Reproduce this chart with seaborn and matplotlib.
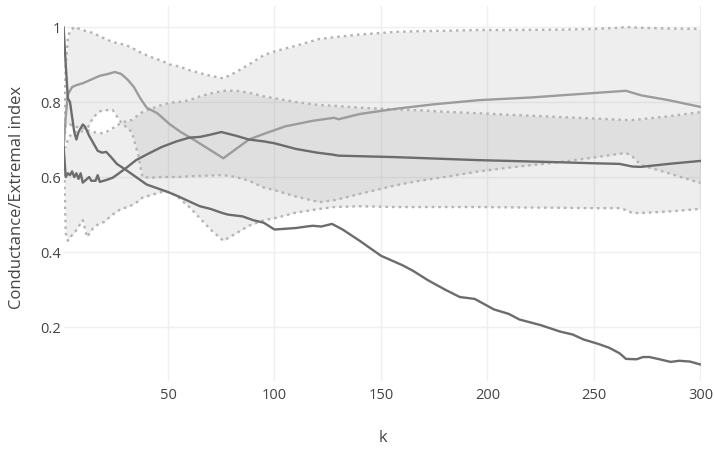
import matplotlib
matplotlib.use("Agg")
import matplotlib.pyplot as plt
import seaborn as sns
import pandas as pd

# ---------------- data ----------------
# line A (dark, decreasing)
k_a = [1, 2, 3, 4, 5, 6, 7, 8, 10, 11, 13, 15, 17, 19, 21, 23, 26, 30, 35, 40, 45, 50, 55, 60, 65,
       70, 75, 78, 85, 90, 95, 100, 105, 110, 115, 118, 122, 127, 132, 140, 150, 160, 165, 172, 180,
       187, 194, 203, 210, 215, 225, 234, 240, 245, 252, 257, 262, 265, 270, 273, 276, 280, 286, 290,
       295, 300]
val_a = [1.0, 0.90, 0.81, 0.80, 0.76, 0.72, 0.70, 0.72, 0.74, 0.735, 0.71, 0.69, 0.67, 0.665, 0.667,
         0.655, 0.635, 0.62, 0.60, 0.58, 0.57, 0.56, 0.548, 0.535, 0.522, 0.515, 0.505, 0.50, 0.495,
         0.485, 0.478, 0.46, 0.462, 0.464, 0.468, 0.47, 0.468, 0.475, 0.46, 0.43, 0.39, 0.365, 0.35,
         0.325, 0.30, 0.28, 0.275, 0.247, 0.235, 0.22, 0.205, 0.188, 0.18, 0.167, 0.155, 0.145, 0.13,
         0.115, 0.114, 0.12, 0.12, 0.115, 0.107, 0.11, 0.108, 0.10]

# line B (light grey)
k_b = [1, 2, 3, 5, 7, 10, 14, 18, 22, 25, 28, 31, 34, 37, 40, 45, 51, 56, 62, 69, 76, 82, 88, 95,
       105, 118, 128, 130, 140, 157, 175, 196, 220, 245, 265, 272, 285, 300]
val_b = [0.68, 0.76, 0.82, 0.84, 0.845, 0.85, 0.86, 0.87, 0.875, 0.88, 0.875, 0.86, 0.84, 0.81,
         0.785, 0.77, 0.74, 0.72, 0.70, 0.675, 0.65, 0.675, 0.70, 0.715, 0.735, 0.75, 0.758, 0.754,
         0.768, 0.782, 0.794, 0.805, 0.812, 0.822, 0.83, 0.818, 0.805, 0.787]

# line C (dark, flat)
k_c = [1, 2, 3, 4, 5, 6, 7, 8, 9, 10, 12, 13, 14, 16, 17, 18, 21, 24, 27, 31, 35, 40, 47, 54, 60,
       65, 70, 75, 82, 88, 95, 100, 110, 120, 127, 130, 157, 196, 230, 248, 262, 268, 272, 285, 300]
val_c = [0.68, 0.60, 0.61, 0.605, 0.615, 0.60, 0.61, 0.595, 0.61, 0.585, 0.595, 0.60, 0.59, 0.59,
         0.605, 0.587, 0.592, 0.598, 0.61, 0.627, 0.645, 0.66, 0.68, 0.695, 0.705, 0.707, 0.713,
         0.72, 0.71, 0.70, 0.695, 0.69, 0.675, 0.665, 0.66, 0.657, 0.653, 0.645, 0.64, 0.637, 0.635,
         0.628, 0.627, 0.635, 0.643]

# bands (shared k grid)
k_band = [1, 2, 3, 4, 6, 10, 12, 15, 18, 20, 24, 28, 31, 33, 36, 38, 42, 47, 51, 55, 60, 65, 70,
          76, 82, 88, 95, 100, 110, 121, 128, 140, 157, 168, 180, 196, 210, 234, 250, 262, 265,
          268, 272, 285, 300]
band_p_upper = [0.68, 0.90, 0.97, 0.99, 1.00, 0.992, 0.988, 0.984, 0.975, 0.97, 0.96, 0.955, 0.95,
                0.945, 0.935, 0.93, 0.92, 0.91, 0.90, 0.895, 0.885, 0.877, 0.87, 0.863, 0.88, 0.90,
                0.925, 0.935, 0.95, 0.968, 0.973, 0.98, 0.987, 0.989, 0.99, 0.992, 0.992, 0.993,
                0.995, 0.998, 1.0, 0.999, 0.998, 0.996, 0.995]
band_p_lower = [0.68, 0.74, 0.74, 0.74, 0.735, 0.73, 0.728, 0.76, 0.775, 0.778, 0.779, 0.745,
                0.73, 0.72, 0.66, 0.60, 0.598, 0.60, 0.60, 0.60, 0.602, 0.603, 0.604, 0.605, 0.60,
                0.59, 0.572, 0.565, 0.548, 0.533, 0.538, 0.555, 0.578, 0.59, 0.60, 0.615, 0.625,
                0.64, 0.652, 0.662, 0.664, 0.655, 0.632, 0.61, 0.584]
band_q_upper = [0.68, 0.68, 0.70, 0.71, 0.72, 0.722, 0.725, 0.72, 0.717, 0.717, 0.73, 0.744, 0.75,
                0.752, 0.765, 0.773, 0.782, 0.792, 0.798, 0.80, 0.805, 0.815, 0.823, 0.83, 0.83,
                0.825, 0.815, 0.81, 0.80, 0.792, 0.79, 0.785, 0.78, 0.778, 0.774, 0.77, 0.766,
                0.76, 0.756, 0.753, 0.752, 0.752, 0.754, 0.762, 0.773]
band_q_lower = [0.68, 0.45, 0.43, 0.44, 0.45, 0.485, 0.44, 0.465, 0.477, 0.48, 0.50, 0.515, 0.52,
                0.525, 0.535, 0.545, 0.552, 0.56, 0.56, 0.545, 0.52, 0.49, 0.46, 0.43, 0.45, 0.47,
                0.485, 0.49, 0.505, 0.515, 0.52, 0.522, 0.52, 0.52, 0.52, 0.52, 0.519, 0.518,
                0.517, 0.517, 0.512, 0.504, 0.504, 0.508, 0.515]

x_ticks = [50, 100, 150, 200, 250, 300]
y_ticks = [0.2, 0.4, 0.6, 0.8, 1.0]
y_tick_labels = ["0.2", "0.4", "0.6", "0.8", "1"]

# ---------------- style ----------------
sns.set_theme(style="white")
plt.rcParams['font.family'] = ['Open Sans', 'DejaVu Sans']

W, H = 714, 451
fig = plt.figure(figsize=(W / 100, H / 100), dpi=100)
left, right, top, bottom = 63.6, 700.5, 6.4, 381.4
ax = fig.add_axes([left / W, 1 - bottom / H, (right - left) / W, (bottom - top) / H])

fill_color = "#8a8a8a"
fill_alpha = 0.14
dot_color = "#b4b4b4"
dot_style = (0, (1.1, 1.7))

for up, lo in [(band_p_upper, band_p_lower), (band_q_upper, band_q_lower)]:
    ax.fill_between(k_band, lo, up, color=fill_color, alpha=fill_alpha, linewidth=0, zorder=1)

band_df = pd.DataFrame({"k": k_band, "pu": band_p_upper, "pl": band_p_lower,
                        "qu": band_q_upper, "ql": band_q_lower})
for col in ["pu", "pl", "qu", "ql"]:
    sns.lineplot(data=band_df, x="k", y=col, ax=ax, color=dot_color, linewidth=1.7,
                 linestyle=dot_style, estimator=None, sort=False, zorder=2)

sns.lineplot(x=k_b, y=val_b, ax=ax, color="#9c9c9c", linewidth=1.7, estimator=None, sort=False, zorder=3)
sns.lineplot(x=k_c, y=val_c, ax=ax, color="#6c6c6c", linewidth=1.7, estimator=None, sort=False, zorder=4)
sns.lineplot(x=k_a, y=val_a, ax=ax, color="#6c6c6c", linewidth=1.7, estimator=None, sort=False, zorder=5)

ax.set_xlim(1, 300)
ax.set_ylim(0.055, 1.055)
ax.set_xticks(x_ticks)
ax.set_xticklabels([str(v) for v in x_ticks])
ax.set_yticks(y_ticks)
ax.set_yticklabels(y_tick_labels)
ax.grid(True, color="#efefef", linewidth=1.0, zorder=0)
ax.set_axisbelow(True)
for s in ax.spines.values():
    s.set_visible(False)
ax.tick_params(axis="both", length=0, labelsize=10.5, labelcolor="#444444")
ax.tick_params(axis="x", pad=5)
ax.tick_params(axis="y", pad=2)

ax.set_xlabel("k", fontsize=12, color="#444444", va="center")
ax.set_ylabel("Conductance/Extremal index", fontsize=12, color="#444444", va="center")
ax.xaxis.set_label_coords((383 - left) / (right - left), (bottom - 438) / (bottom - top))
ax.yaxis.set_label_coords((17 - left) / (right - left), 0.49)

fig.savefig("out.png", dpi=100)
